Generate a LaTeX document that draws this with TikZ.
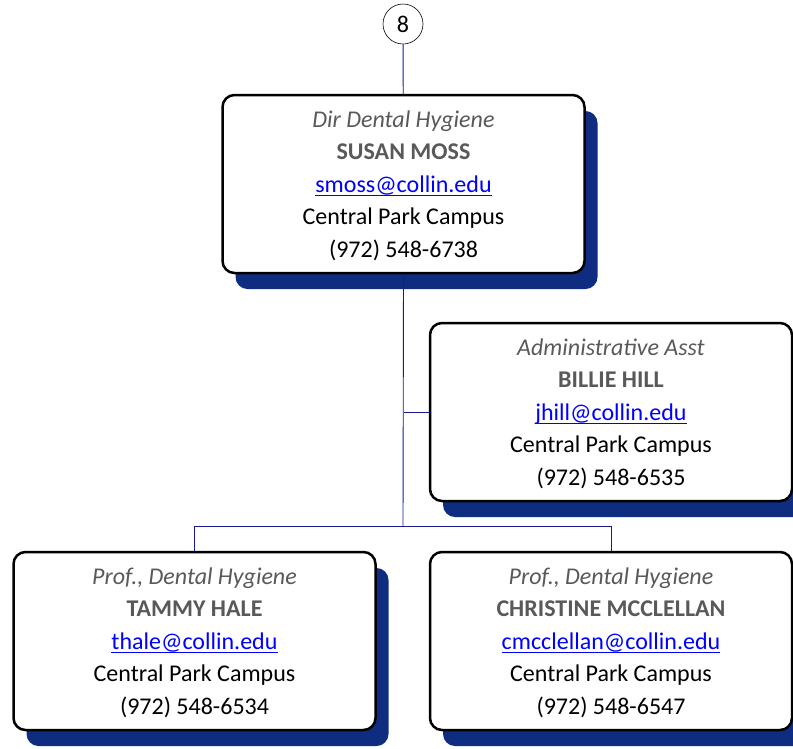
\documentclass[tikz,border=0pt]{standalone}
\usepackage{fontspec}
\setmainfont{Carlito}
\usepackage{xcolor}
\definecolor{navy}{RGB}{14,45,128}
\definecolor{wire}{RGB}{25,25,150}
\definecolor{grey}{RGB}{89,89,89}
\usetikzlibrary{shadows}
\newcommand{\mail}[1]{{\color{blue}\setbox0\hbox{#1}\rlap{\rule[-3.5pt]{\wd0}{1.2pt}}\box0}}

\begin{document}
\begin{tikzpicture}[x=1pt,y=-1pt,
card/.style={draw, line width=2.5pt, rounded corners=12pt, fill=white, minimum width=362pt, minimum height=178pt, inner sep=0pt, text depth=0pt, align=center, font=\fontsize{24}{32.5}\selectfont, drop shadow={shadow xshift=13pt, shadow yshift=-16pt, fill=navy, opacity=1}},
link/.style={wire, line width=0.9pt}]
\useasboundingbox (0,0) rectangle (793,748);
\node[draw, circle, line width=0.6pt, minimum size=40pt, inner sep=0pt, font=\fontsize{24}{28}\selectfont] (page) at (403,24) {8};
\foreach \name/\x/\y/\job/\who/\addr/\tel in {dir/403.5/184/{Dir Dental Hygiene}/{SUSAN MOSS}/smoss/6738, asst/611/412/{Administrative Asst}/{BILLIE HILL}/jhill/6535, hale/194.5/641/{Prof., Dental Hygiene}/{TAMMY HALE}/thale/6534, mcc/611/641/{Prof., Dental Hygiene}/{CHRISTINE MCCLELLAN}/cmcclellan/6547}{
\node[card] (\name) at (\x,\y){{\color{grey}\itshape \job}\\{\color{grey}\bfseries \who}\\\mail{\addr @collin.edu}\\Central Park Campus\\(972) 548-\tel};
}
\coordinate (bus) at (403,526);
\draw[link] (page) -- (dir);
\draw[link] (dir.south) -- (bus);
\draw[link] (dir.south |- asst.west) -- (asst.west);
\draw[link] (bus) -| (hale.north);
\draw[link] (bus) -| (mcc.north);
\end{tikzpicture}
\end{document}
